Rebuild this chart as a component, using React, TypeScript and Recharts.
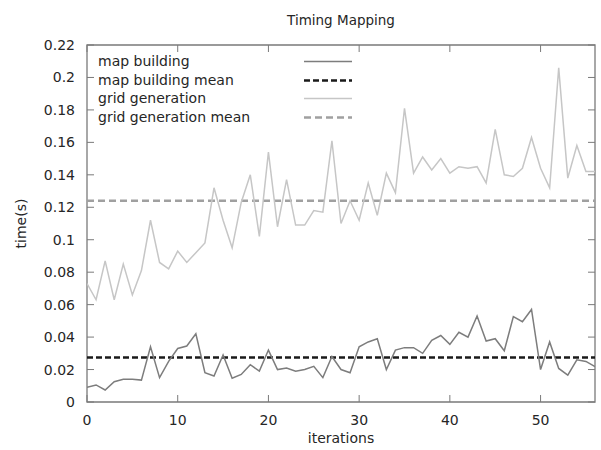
import React from 'react';
import { LineChart, Line, XAxis, YAxis, ReferenceLine, ReferenceArea } from 'recharts';

const iterations = Array.from({ length: 57 }, (_, i) => i);

const mapBuilding = [
  0.009, 0.0105, 0.0074, 0.0125, 0.014, 0.014, 0.0135, 0.034, 0.015, 0.025,
  0.033, 0.0345, 0.042, 0.018, 0.016, 0.029, 0.0146, 0.017, 0.023, 0.019,
  0.032, 0.020, 0.021, 0.019, 0.020, 0.022, 0.015, 0.028, 0.020, 0.018,
  0.034, 0.037, 0.039, 0.020, 0.032, 0.0335, 0.0335, 0.030, 0.038, 0.041,
  0.0355, 0.043, 0.040, 0.053, 0.0376, 0.039, 0.0316, 0.0526, 0.0495, 0.057,
  0.020, 0.037, 0.0207, 0.0166, 0.026, 0.025, 0.0218,
];

const gridGeneration = [
  0.073, 0.063, 0.087, 0.063, 0.085, 0.066, 0.081, 0.112, 0.086, 0.082,
  0.093, 0.086, 0.092, 0.098, 0.132, 0.112, 0.095, 0.123, 0.140, 0.102,
  0.154, 0.108, 0.137, 0.109, 0.109, 0.118, 0.117, 0.161, 0.110, 0.124,
  0.112, 0.135, 0.115, 0.141, 0.129, 0.181, 0.141, 0.151, 0.143, 0.150,
  0.141, 0.145, 0.144, 0.145, 0.135, 0.168, 0.140, 0.139, 0.144, 0.163,
  0.144, 0.132, 0.206, 0.138, 0.158, 0.142, 0.142,
];

const mapBuildingMean = 0.0275;
const gridGenerationMean = 0.124;

const xTicks = [0, 10, 20, 30, 40, 50];
const yTicks = [0, 0.02, 0.04, 0.06, 0.08, 0.1, 0.12, 0.14, 0.16, 0.18, 0.2, 0.22];

const legendItems = [
  { name: 'map building', color: '#7d7d7d', width: 1.5, dash: '' },
  { name: 'map building mean', color: '#1a1a1a', width: 2.5, dash: '6 3' },
  { name: 'grid generation', color: '#c6c6c6', width: 1.5, dash: '' },
  { name: 'grid generation mean', color: '#a0a0a0', width: 2.5, dash: '7 4' },
];

const data = iterations.map((it, i) => ({
  it,
  map: mapBuilding[i],
  grid: gridGeneration[i],
}));

const W = 601;
const H = 450;
const M = { top: 45, right: 6, bottom: 0, left: 0 };
const Y_W = 87;
const X_H = 48;
const PLOT_TOP = M.top;
const PLOT_LEFT = M.left + Y_W;
const PLOT_RIGHT = W - M.right;
const PLOT_BOTTOM = H - M.bottom - X_H;
const FONT = '"DejaVu Sans", sans-serif';
const TXT = '#262626';
const FRAME = '#7a7a7a';

const XTick = (props: any) => {
  const { x, y, payload } = props;
  return (
    <g>
      <line x1={x} x2={x} y1={y} y2={y - 7} stroke={FRAME} strokeWidth={1} />
      <line x1={x} x2={x} y1={PLOT_TOP} y2={PLOT_TOP + 7} stroke={FRAME} strokeWidth={1} />
      <text x={x} y={y + 23} textAnchor="middle" fontFamily={FONT} fontSize={14} fill={TXT}>
        {payload.value}
      </text>
    </g>
  );
};

const YTick = (props: any) => {
  const { x, y, payload } = props;
  return (
    <g>
      <line x1={x} x2={x + 7} y1={y} y2={y} stroke={FRAME} strokeWidth={1} />
      <line x1={PLOT_RIGHT} x2={PLOT_RIGHT - 7} y1={y} y2={y} stroke={FRAME} strokeWidth={1} />
      <text x={x - 12} y={y + 5} textAnchor="end" fontFamily={FONT} fontSize={14} fill={TXT}>
        {payload.value}
      </text>
    </g>
  );
};

const YLabel = () => {
  const cx = 21;
  const cy = (PLOT_TOP + PLOT_BOTTOM) / 2;
  return (
    <text
      x={cx}
      y={cy}
      transform={`rotate(-90 ${cx} ${cy})`}
      textAnchor="middle"
      dominantBaseline="central"
      fontFamily={FONT}
      fontSize={14}
      fill={TXT}
    >
      time(s)
    </text>
  );
};

const XLabel = () => {
  const cx = (PLOT_LEFT + PLOT_RIGHT) / 2;
  return (
    <text x={cx} y={443} textAnchor="middle" fontFamily={FONT} fontSize={14} fill={TXT}>
      iterations
    </text>
  );
};

export default function App() {
  return (
    <div style={{ position: 'absolute', left: 0, top: 0, width: W, height: H, background: '#fff' }}>
      <LineChart width={W} height={H} data={data} margin={M}>
        <ReferenceArea
          x1={0}
          x2={56}
          y1={0}
          y2={0.22}
          fill="none"
          stroke={FRAME}
          strokeWidth={1.3}
          fillOpacity={0}
          ifOverflow="visible"
        />
        <XAxis
          dataKey="it"
          type="number"
          domain={[0, 56]}
          ticks={xTicks}
          height={X_H}
          axisLine={false}
          tickLine={false}
          tickSize={0}
          tickMargin={0}
          tick={<XTick />}
          interval={0}
          allowDataOverflow
          label={<XLabel />}
        />
        <YAxis
          type="number"
          domain={[0, 0.22]}
          ticks={yTicks}
          width={Y_W}
          axisLine={false}
          tickLine={false}
          tickSize={0}
          tickMargin={0}
          tick={<YTick />}
          interval={0}
          allowDataOverflow
          label={<YLabel />}
        />
        <ReferenceLine y={gridGenerationMean} stroke="#a0a0a0" strokeWidth={2.5} strokeDasharray="7 4" />
        <ReferenceLine y={mapBuildingMean} stroke="#1a1a1a" strokeWidth={2.5} strokeDasharray="6 3" />
        <Line
          type="linear"
          dataKey="grid"
          stroke="#c6c6c6"
          strokeWidth={1.5}
          dot={false}
          isAnimationActive={false}
        />
        <Line
          type="linear"
          dataKey="map"
          stroke="#7d7d7d"
          strokeWidth={1.5}
          dot={false}
          isAnimationActive={false}
        />
      </LineChart>
      <div
        style={{
          position: 'absolute',
          left: 0,
          top: 12,
          width: W,
          textAlign: 'center',
          paddingLeft: PLOT_LEFT - (W - PLOT_RIGHT),
          boxSizing: 'border-box',
          fontFamily: FONT,
          fontSize: 13.5,
          color: TXT,
        }}
      >
        Timing Mapping
      </div>
      <div style={{ position: 'absolute', left: 98, top: 52, fontFamily: FONT, fontSize: 14, color: TXT }}>
        {legendItems.map((it) => (
          <div key={it.name} style={{ position: 'relative', height: 18.6, lineHeight: '18.6px', width: 260 }}>
            <span>{it.name}</span>
            <svg style={{ position: 'absolute', left: 204, top: 0 }} width={52} height={18}>
              <line
                x1={2}
                x2={50}
                y1={9.5}
                y2={9.5}
                stroke={it.color}
                strokeWidth={it.width}
                strokeDasharray={it.dash || undefined}
              />
            </svg>
          </div>
        ))}
      </div>
    </div>
  );
}
